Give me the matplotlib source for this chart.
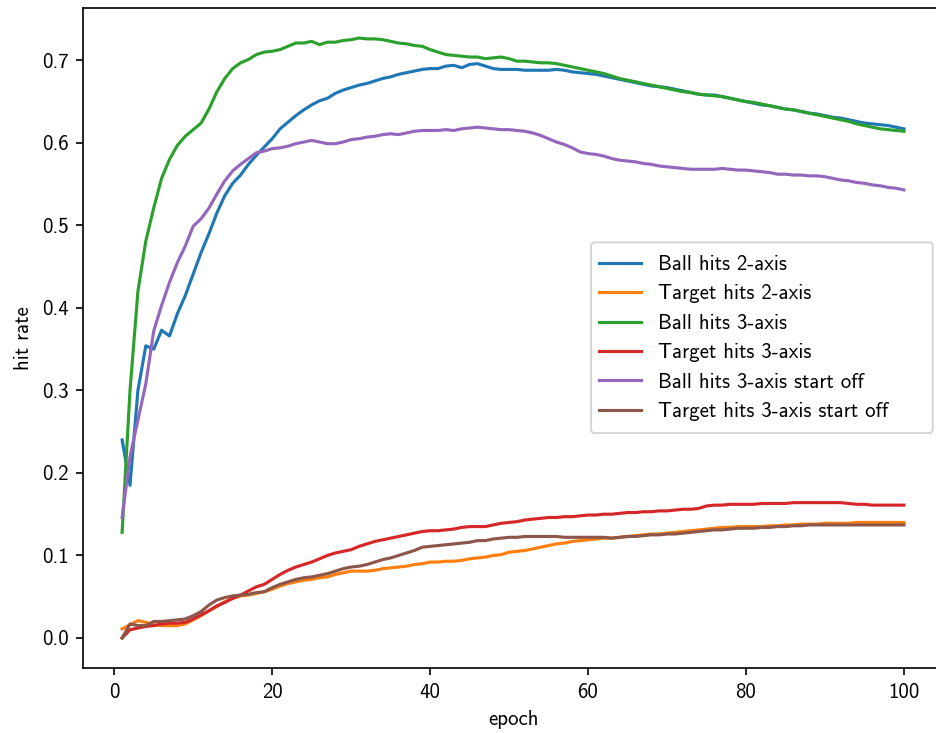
import numpy as np
import matplotlib
matplotlib.use("Agg")
import matplotlib.pyplot as plt
from matplotlib.patches import FancyBboxPatch
from matplotlib.transforms import IdentityTransform

plt.rcParams['font.family'] = ['cmss10', 'DejaVu Sans']
plt.rcParams['axes.unicode_minus'] = False
plt.rcParams['font.size'] = 10

epochs = list(range(1, 101))

ball_2axis = [
    0.240, 0.185, 0.300, 0.354, 0.350, 0.373, 0.366, 0.393, 0.415, 0.441,
    0.467, 0.490, 0.515, 0.536, 0.551, 0.561, 0.574, 0.585, 0.595, 0.605,
    0.617, 0.625, 0.633, 0.640, 0.646, 0.651, 0.654, 0.660, 0.664, 0.667,
    0.670, 0.672, 0.675, 0.678, 0.680, 0.683, 0.685, 0.687, 0.689, 0.690,
    0.690, 0.693, 0.694, 0.691, 0.695, 0.696, 0.693, 0.690, 0.689, 0.689,
    0.689, 0.688, 0.688, 0.688, 0.688, 0.689, 0.688, 0.686, 0.685, 0.684,
    0.683, 0.681, 0.679, 0.677, 0.675, 0.673, 0.671, 0.669, 0.668, 0.667,
    0.665, 0.663, 0.661, 0.659, 0.658, 0.658, 0.656, 0.654, 0.652, 0.650,
    0.648, 0.646, 0.645, 0.643, 0.641, 0.640, 0.638, 0.636, 0.635, 0.633,
    0.631, 0.630, 0.628, 0.626, 0.624, 0.623, 0.622, 0.621, 0.619, 0.617,
]

target_2axis = [
    0.011, 0.016, 0.021, 0.019, 0.016, 0.015, 0.015, 0.015, 0.017, 0.022,
    0.027, 0.033, 0.038, 0.044, 0.048, 0.051, 0.052, 0.054, 0.056, 0.059,
    0.063, 0.066, 0.068, 0.070, 0.071, 0.073, 0.074, 0.077, 0.079, 0.081,
    0.081, 0.081, 0.082, 0.084, 0.085, 0.086, 0.087, 0.089, 0.090, 0.092,
    0.092, 0.093, 0.093, 0.094, 0.096, 0.097, 0.098, 0.100, 0.101, 0.104,
    0.105, 0.106, 0.108, 0.110, 0.112, 0.114, 0.115, 0.117, 0.118, 0.119,
    0.120, 0.121, 0.121, 0.122, 0.123, 0.124, 0.125, 0.126, 0.126, 0.127,
    0.128, 0.129, 0.130, 0.131, 0.132, 0.133, 0.134, 0.134, 0.135, 0.135,
    0.135, 0.135, 0.136, 0.136, 0.137, 0.137, 0.138, 0.138, 0.138, 0.139,
    0.139, 0.139, 0.139, 0.140, 0.140, 0.140, 0.140, 0.140, 0.140, 0.140,
]

ball_3axis = [
    0.128, 0.300, 0.420, 0.481, 0.521, 0.557, 0.580, 0.597, 0.608, 0.616,
    0.624, 0.641, 0.662, 0.678, 0.690, 0.697, 0.701, 0.707, 0.710, 0.711,
    0.713, 0.717, 0.721, 0.721, 0.723, 0.719, 0.722, 0.722, 0.724, 0.725,
    0.727, 0.726, 0.726, 0.725, 0.723, 0.721, 0.720, 0.718, 0.717, 0.713,
    0.710, 0.707, 0.706, 0.705, 0.704, 0.704, 0.702, 0.703, 0.704, 0.702,
    0.699, 0.699, 0.698, 0.697, 0.697, 0.696, 0.694, 0.692, 0.690, 0.688,
    0.686, 0.684, 0.681, 0.678, 0.676, 0.674, 0.672, 0.670, 0.668, 0.666,
    0.664, 0.662, 0.661, 0.659, 0.658, 0.657, 0.656, 0.654, 0.652, 0.650,
    0.649, 0.647, 0.645, 0.643, 0.641, 0.640, 0.638, 0.636, 0.634, 0.632,
    0.630, 0.628, 0.626, 0.623, 0.621, 0.619, 0.617, 0.616, 0.615, 0.614,
]

target_3axis = [
    0.000, 0.010, 0.012, 0.014, 0.015, 0.017, 0.018, 0.018, 0.019, 0.023,
    0.028, 0.033, 0.039, 0.043, 0.048, 0.052, 0.057, 0.062, 0.065, 0.071,
    0.077, 0.082, 0.086, 0.089, 0.092, 0.096, 0.100, 0.103, 0.105, 0.107,
    0.111, 0.114, 0.117, 0.119, 0.121, 0.123, 0.125, 0.127, 0.129, 0.130,
    0.130, 0.131, 0.132, 0.134, 0.135, 0.135, 0.135, 0.137, 0.139, 0.140,
    0.141, 0.143, 0.144, 0.145, 0.146, 0.146, 0.147, 0.147, 0.148, 0.149,
    0.149, 0.150, 0.150, 0.151, 0.152, 0.152, 0.153, 0.153, 0.154, 0.154,
    0.155, 0.156, 0.156, 0.157, 0.160, 0.161, 0.161, 0.162, 0.162, 0.162,
    0.162, 0.163, 0.163, 0.163, 0.163, 0.164, 0.164, 0.164, 0.164, 0.164,
    0.164, 0.164, 0.163, 0.162, 0.162, 0.161, 0.161, 0.161, 0.161, 0.161,
]

ball_3axis_off = [
    0.146, 0.220, 0.264, 0.308, 0.372, 0.403, 0.431, 0.455, 0.475, 0.499,
    0.508, 0.521, 0.538, 0.554, 0.566, 0.574, 0.581, 0.588, 0.590, 0.593,
    0.594, 0.596, 0.599, 0.601, 0.603, 0.601, 0.599, 0.599, 0.601, 0.604,
    0.605, 0.607, 0.608, 0.610, 0.611, 0.610, 0.612, 0.614, 0.615, 0.615,
    0.615, 0.616, 0.615, 0.617, 0.618, 0.619, 0.618, 0.617, 0.616, 0.616,
    0.615, 0.614, 0.612, 0.609, 0.605, 0.601, 0.598, 0.594, 0.589, 0.587,
    0.586, 0.584, 0.581, 0.579, 0.578, 0.577, 0.575, 0.574, 0.572, 0.571,
    0.570, 0.569, 0.568, 0.568, 0.568, 0.568, 0.569, 0.568, 0.567, 0.567,
    0.566, 0.565, 0.564, 0.562, 0.562, 0.561, 0.561, 0.560, 0.560, 0.559,
    0.557, 0.555, 0.554, 0.552, 0.551, 0.549, 0.548, 0.546, 0.545, 0.543,
]

target_3axis_off = [
    0.000, 0.017, 0.015, 0.015, 0.020, 0.020, 0.021, 0.022, 0.023, 0.027,
    0.032, 0.040, 0.046, 0.049, 0.051, 0.052, 0.053, 0.055, 0.056, 0.061,
    0.065, 0.068, 0.071, 0.073, 0.074, 0.076, 0.078, 0.081, 0.084, 0.086,
    0.087, 0.089, 0.092, 0.095, 0.097, 0.100, 0.103, 0.106, 0.110, 0.111,
    0.112, 0.113, 0.114, 0.115, 0.116, 0.118, 0.118, 0.120, 0.121, 0.122,
    0.122, 0.123, 0.123, 0.123, 0.123, 0.123, 0.122, 0.122, 0.122, 0.122,
    0.122, 0.122, 0.121, 0.122, 0.123, 0.123, 0.124, 0.125, 0.125, 0.126,
    0.126, 0.127, 0.128, 0.129, 0.130, 0.131, 0.131, 0.132, 0.133, 0.133,
    0.133, 0.134, 0.134, 0.135, 0.135, 0.136, 0.136, 0.137, 0.137, 0.137,
    0.137, 0.137, 0.137, 0.137, 0.137, 0.137, 0.137, 0.137, 0.137, 0.137,
]

series = [
    (ball_2axis, 'Ball hits 2-axis'),
    (target_2axis, 'Target hits 2-axis'),
    (ball_3axis, 'Ball hits 3-axis'),
    (target_3axis, 'Target hits 3-axis'),
    (ball_3axis_off, 'Ball hits 3-axis start off'),
    (target_3axis_off, 'Target hits 3-axis start off'),
]

dpi = 150
fig = plt.figure(figsize=(6.24, 4.8867), dpi=dpi)
ax = fig.add_subplot(111)
fig.subplots_adjust(left=0.0887, right=1.0075, bottom=0.0887, top=0.989)

for values, label in series:
    ax.plot(epochs, values, label=label)

ax.set_xlabel('epoch')
ax.set_ylabel('hit rate')

# legend entries without their own frame, boxed by a wider rounded frame
box_left, box_right = 0.5907, 0.988
box_bottom, box_top = 0.356, 0.645
ax.legend(loc='center left', bbox_to_anchor=(box_left, 0.5), frameon=False,
          borderaxespad=0.0)

(x0, y0), (x1, y1) = ax.transAxes.transform([(box_left, box_bottom),
                                             (box_right, box_top)])
frame = FancyBboxPatch((x0, y0), x1 - x0, y1 - y0,
                       boxstyle='round,pad=0,rounding_size=0.2',
                       mutation_scale=10 * dpi / 72,
                       facecolor='white', edgecolor='0.8', alpha=0.8,
                       linewidth=1.0, transform=IdentityTransform(),
                       zorder=4.9)
ax.add_artist(frame)

fig.savefig('out.png', dpi=dpi)
